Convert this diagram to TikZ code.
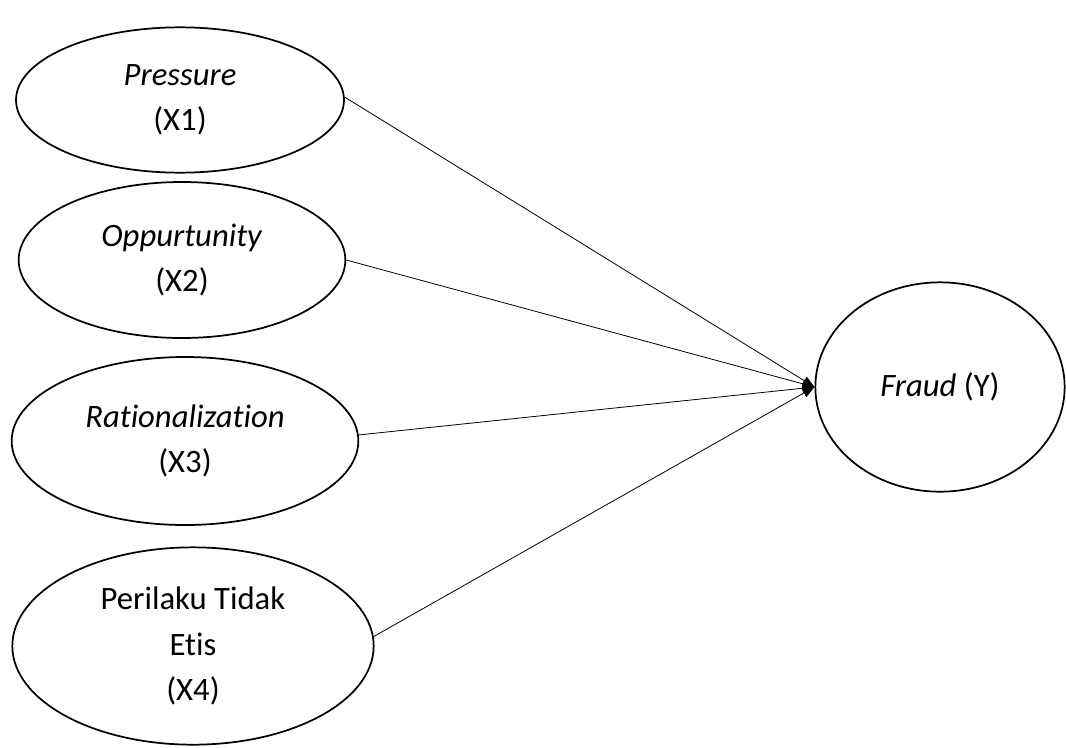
\documentclass[tikz,border=0pt]{standalone}
\usepackage{fontspec}
\setmainfont{Carlito}[Ligatures=NoCommon]
\usepackage{tikz}
\usetikzlibrary{positioning,shapes.geometric,arrows.meta}

\begin{document}
\begin{tikzpicture}[x=0.75pt,y=-0.75pt,
    var/.style={ellipse,draw,line width=1.3pt,inner sep=0pt,align=center,
      font=\fontsize{24.5}{34}\selectfont},
    path/.style={line width=0.6pt,-{Triangle[length=9pt,width=7pt]}}]
  \useasboundingbox (0,0) rectangle (1066,747);
  \node[var,minimum width=246pt,minimum height=109pt](pressure) at (180,100){\textit{Pressure}\\(X1)};
  \node[var,minimum width=245pt,minimum height=117pt](opportunity) at (182,260){\textit{Oppurtunity}\\(X2)};
  \node[var,minimum width=260pt,minimum height=126pt](rational) at (185,441){\textit{Rationalization}\\(X3)};
  \node[var,minimum width=271pt,minimum height=148pt](perilaku) at (193,646){Perilaku Tidak\\Etis\\(X4)};
  \node[var,minimum width=187pt,minimum height=157pt](fraud) at (940,387){\textit{Fraud} (Y)};
  \draw[path] (pressure.1) -- (fraud.west);
  \draw[path] (opportunity.east) -- (fraud.west);
  \draw[path] (rational.2) -- (fraud.west);
  \draw[path] (perilaku.3) -- (fraud.west);
\end{tikzpicture}
\end{document}
